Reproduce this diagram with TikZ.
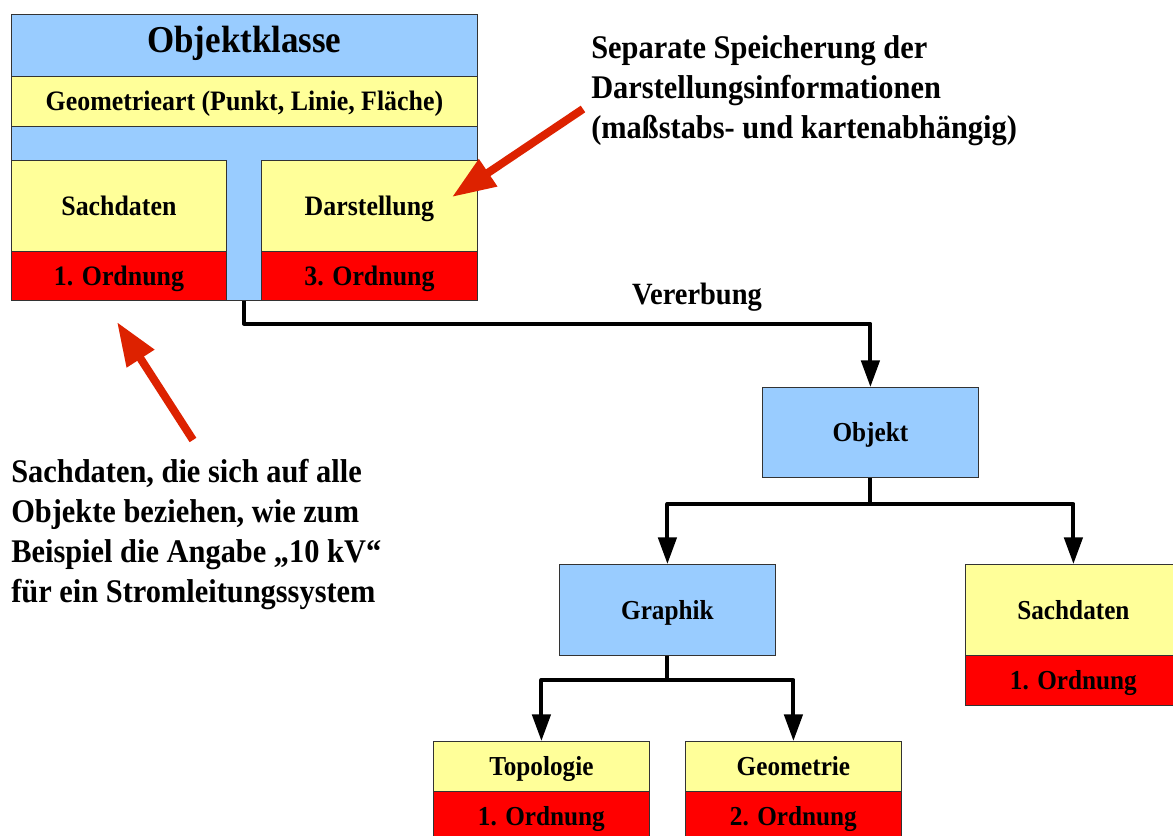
\documentclass[tikz,border=0pt]{standalone}
\usepackage{fontspec}
\setmainfont{Liberation Serif}[FakeStretch=0.92]
\usetikzlibrary{arrows.meta}
\definecolor{cblue}{HTML}{99CCFF}
\definecolor{cyel}{HTML}{FFFF99}
\definecolor{cred}{HTML}{FF0000}
\definecolor{carrow}{HTML}{DD2200}
\definecolor{cborder}{HTML}{333333}
\newdimen\pxu \pxu=0.025cm
\tikzset{
  cell/.style={draw=cborder, line width=0.6pt, anchor=north west, inner sep=0pt,
    text height=13pt, text depth=0pt,
    font=\bfseries\fontsize{19.5}{22}\selectfont},
  bluec/.style={cell, fill=cblue},
  yelc/.style={cell, fill=cyel},
  redc/.style={cell, fill=cred},
  sz/.style 2 args={minimum width=#1\pxu, minimum height=#2\pxu},
  conn/.style={draw=black, line width=2.8pt, line join=round,
    -{Triangle[length=19pt,width=13pt]}},
  redarrow/.style={draw=carrow, line width=5.7pt,
    -{Triangle[length=31pt,width=22pt]}},
  anno/.style={anchor=north west, align=left, inner sep=0pt,
    font=\bfseries\fontsize{23.5}{28.5}\selectfont},
}
\begin{document}
\begin{tikzpicture}[x=0.025cm, y=-0.025cm]
\path[fill=white, use as bounding box] (0,0) rectangle (1173,836);
% Objektklasse composite
\node[bluec, sz={466}{286}] (ok) at (11,14) {};
\node[bluec, sz={466}{62}, text height=17.8pt, text depth=7.8pt, font=\bfseries\fontsize{27}{30}\selectfont] (okt) at (11,14) {Objektklasse};
\node[yelc, sz={466}{50}, font=\bfseries\fontsize{20}{24}\selectfont] (geo) at (11,76) {Geometrieart (Punkt, Linie, Fläche)};
\node[yelc, sz={215}{91}, font=\bfseries\fontsize{20}{24}\selectfont] (sd1) at (11,160) {Sachdaten};
\node[redc, sz={215}{49}, font=\bfseries\fontsize{20}{24}\selectfont] (sd1o) at (11,251) {1. Ordnung};
\node[yelc, sz={216}{91}, font=\bfseries\fontsize{20}{24}\selectfont] (ds) at (261,160) {Darstellung};
\node[redc, sz={216}{49}, font=\bfseries\fontsize{20}{24}\selectfont] (dso) at (261,251) {3. Ordnung};
\node[anchor=north west, inner sep=0pt, sz={35}{174}] (stem) at (226,126) {};
% hierarchy
\node[bluec, sz={216}{90}] (obj) at (762,387) {Objekt};
\node[bluec, sz={216}{91}] (gra) at (559,564) {Graphik};
\node[yelc, sz={216}{91}] (sd2) at (965,564) {Sachdaten};
\node[redc, sz={216}{50}] (sd2o) at (965,655) {1. Ordnung};
\node[yelc, sz={216}{50}] (topo) at (433,741) {Topologie};
\node[redc, sz={216}{50}] (topoo) at (433,791) {1. Ordnung};
\node[yelc, sz={216}{50}] (geom) at (685,741) {Geometrie};
\node[redc, sz={216}{50}] (geomo) at (685,791) {2. Ordnung};
% connectors
\draw[conn] (stem.south) -- ++(0,23) -| (obj.north);
\draw[conn] (obj.south) -- ++(0,26) -| (gra.north);
\draw[conn] (obj.south) -- ++(0,26) -| (sd2.north);
\draw[conn] (gra.south) -- ++(0,24) -| (topo.north);
\draw[conn] (gra.south) -- ++(0,24) -| (geom.north);
\node[anchor=base, inner sep=0pt, font=\bfseries\fontsize{22}{26}\selectfont] (ver) at (697,304) {Vererbung};
% annotations
\node[anno] (ann1) at (591,35) {Separate Speicherung der\\Darstellungsinformationen\\(maßstabs- und kartenabhängig)};
\node[anno] (ann2) at (11,459) {Sachdaten, die sich auf alle\\Objekte beziehen, wie zum\\Beispiel die Angabe „10 kV“\\für ein Stromleitungssystem};
\coordinate (a1tail) at (583,109);
\coordinate (a1tip) at (452,197);
\coordinate (a2tail) at (193,440);
\coordinate (a2tip) at (117,322);
\draw[redarrow] (a1tail) -- (a1tip);
\draw[redarrow] (a2tail) -- (a2tip);
\end{tikzpicture}
\end{document}
